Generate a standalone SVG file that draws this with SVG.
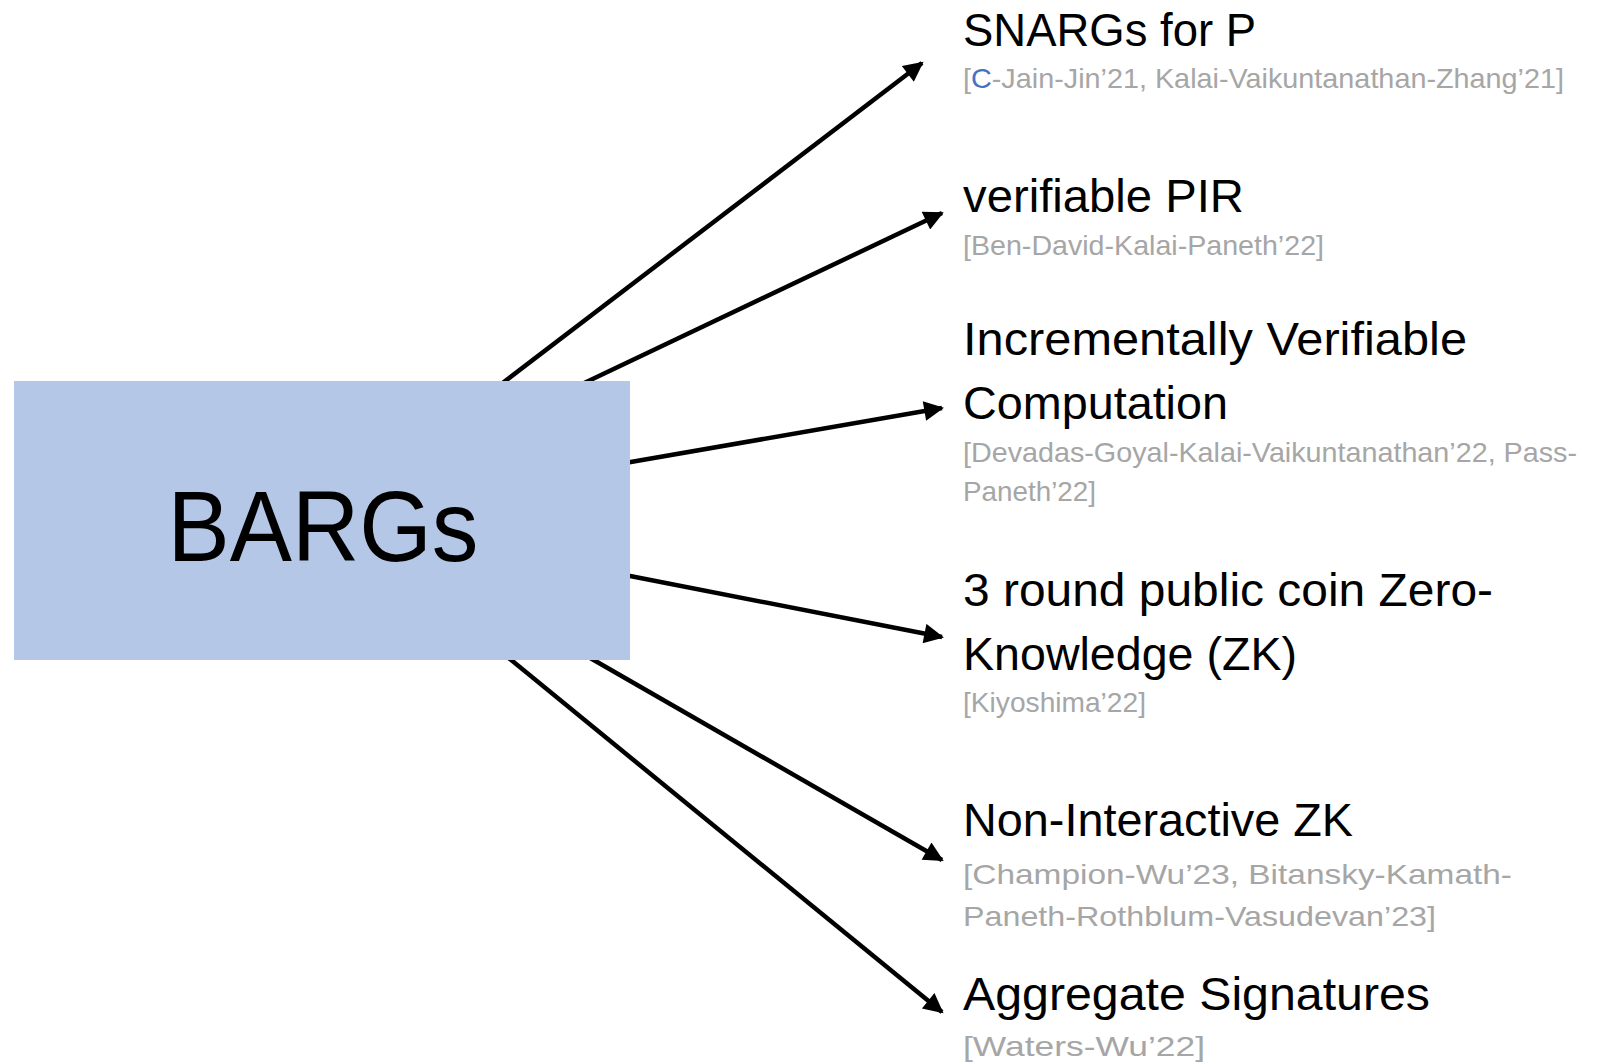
<svg xmlns="http://www.w3.org/2000/svg" width="1606" height="1062" viewBox="0 0 1606 1062">
<style>
.t{font-family:"Liberation Sans",Arial,sans-serif;font-size:47px;fill:#000}
.c{font-family:"Liberation Sans",Arial,sans-serif;font-size:28.5px;fill:#A6A6A6}
.big{font-family:"Liberation Sans",Arial,sans-serif;font-size:100px;fill:#000}
.ln{stroke:#000;stroke-width:4.5;fill:none;marker-end:url(#ah)}
</style>
<defs>
<marker id="ah" viewBox="0 0 10 10" refX="9" refY="5" markerWidth="5" markerHeight="4.4" orient="auto" markerUnits="strokeWidth">
<path d="M0,0 L10,5 L0,10 Z" fill="#000"/>
</marker>
</defs>
<rect width="1606" height="1062" fill="#fff"/>
<g id="connectors">
<line class="ln" x1="500" y1="385" x2="922" y2="63"/>
<line class="ln" x1="580" y1="385" x2="942" y2="213"/>
<line class="ln" x1="625" y1="463" x2="942" y2="408"/>
<line class="ln" x1="625" y1="575" x2="942" y2="637"/>
<line class="ln" x1="585" y1="655" x2="942" y2="860"/>
<line class="ln" x1="505" y1="655" x2="942" y2="1012"/>
</g>
<g id="bargs">
<rect x="14" y="381" width="616" height="279" fill="#B4C7E7"/>
<text class="big" x="323" y="561" text-anchor="middle" textLength="311" lengthAdjust="spacingAndGlyphs">BARGs</text>
</g>
<g id="snargs">
<text class="t" x="963" y="46" textLength="293" lengthAdjust="spacingAndGlyphs">SNARGs for P</text>
<text class="c" x="963" y="88" textLength="601" lengthAdjust="spacingAndGlyphs">[<tspan fill="#4472C4">C</tspan>-Jain-Jin’21, Kalai-Vaikuntanathan-Zhang’21]</text>
</g>
<g id="vpir">
<text class="t" x="963" y="212" textLength="281" lengthAdjust="spacingAndGlyphs">verifiable PIR</text>
<text class="c" x="963" y="255" textLength="361" lengthAdjust="spacingAndGlyphs">[Ben-David-Kalai-Paneth’22]</text>
</g>
<g id="ivc">
<text class="t" x="963" y="355" textLength="504" lengthAdjust="spacingAndGlyphs">Incrementally Verifiable</text>
<text class="t" x="963" y="419" textLength="265" lengthAdjust="spacingAndGlyphs">Computation</text>
<text class="c" x="963" y="462" textLength="614" lengthAdjust="spacingAndGlyphs">[Devadas-Goyal-Kalai-Vaikuntanathan’22, Pass-</text>
<text class="c" x="963" y="501" textLength="133" lengthAdjust="spacingAndGlyphs">Paneth’22]</text>
</g>
<g id="zk3">
<text class="t" x="963" y="606" textLength="530" lengthAdjust="spacingAndGlyphs">3 round public coin Zero-</text>
<text class="t" x="963" y="670" textLength="334" lengthAdjust="spacingAndGlyphs">Knowledge (ZK)</text>
<text class="c" x="963" y="712" textLength="183" lengthAdjust="spacingAndGlyphs">[Kiyoshima’22]</text>
</g>
<g id="nizk">
<text class="t" x="963" y="836" textLength="390" lengthAdjust="spacingAndGlyphs">Non-Interactive ZK</text>
<text class="c" x="963" y="884" textLength="549" lengthAdjust="spacingAndGlyphs">[Champion-Wu’23, Bitansky-Kamath-</text>
<text class="c" x="963" y="926" textLength="473" lengthAdjust="spacingAndGlyphs">Paneth-Rothblum-Vasudevan’23]</text>
</g>
<g id="aggsig">
<text class="t" x="963" y="1010" textLength="467" lengthAdjust="spacingAndGlyphs">Aggregate Signatures</text>
<text class="c" x="963" y="1056" textLength="242" lengthAdjust="spacingAndGlyphs">[Waters-Wu’22]</text>
</g>
</svg>
